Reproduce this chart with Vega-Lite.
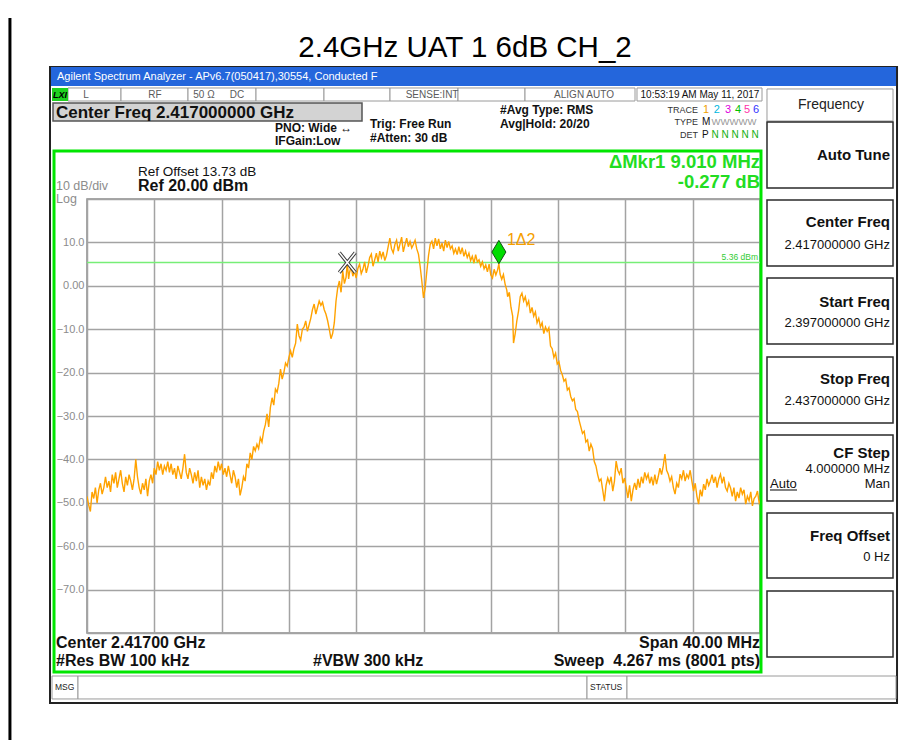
{
  "$schema": "https://vega.github.io/schema/vega-lite/v6.json",
  "width": 673,
  "height": 434,
  "autosize": {"type": "none"},
  "padding": {"left": 87, "top": 199, "right": 139, "bottom": 107},
  "background": "white",
  "config": {
    "view": {"stroke": "#8a8a8a", "strokeWidth": 1.5},
    "font": "Liberation Sans",
    "text": {"font": "Liberation Sans"}
  },
  "datasets": {
    "trace": [
      {"f":2397.0,"dBm":-48.5},{"f":2397.1,"dBm":-50.5},{"f":2397.2,"dBm":-52},{"f":2397.3,"dBm":-47.5},{"f":2397.4,"dBm":-49},{"f":2397.5,"dBm":-46.5},{"f":2397.6,"dBm":-50},{"f":2397.7,"dBm":-47},{"f":2397.8,"dBm":-45.5},{"f":2397.9,"dBm":-48},
      {"f":2398.0,"dBm":-46.5},{"f":2398.1,"dBm":-44},{"f":2398.2,"dBm":-46.5},{"f":2398.3,"dBm":-45},{"f":2398.4,"dBm":-47.5},{"f":2398.5,"dBm":-43.5},{"f":2398.6,"dBm":-45.5},{"f":2398.7,"dBm":-43},{"f":2398.8,"dBm":-46.5},{"f":2398.9,"dBm":-44.5},
      {"f":2399.0,"dBm":-42.5},{"f":2399.1,"dBm":-45.5},{"f":2399.2,"dBm":-47.5},{"f":2399.3,"dBm":-44},{"f":2399.4,"dBm":-46},{"f":2399.5,"dBm":-43.5},{"f":2399.6,"dBm":-45},{"f":2399.7,"dBm":-47},{"f":2399.8,"dBm":-44.5},{"f":2399.9,"dBm":-40},
      {"f":2400.0,"dBm":-44},{"f":2400.1,"dBm":-46.5},{"f":2400.2,"dBm":-48},{"f":2400.3,"dBm":-45.5},{"f":2400.4,"dBm":-47},{"f":2400.5,"dBm":-44.5},{"f":2400.6,"dBm":-48.5},{"f":2400.7,"dBm":-45},{"f":2400.8,"dBm":-43.5},{"f":2400.9,"dBm":-45.5},
      {"f":2401.0,"dBm":-42},{"f":2401.1,"dBm":-43.5},{"f":2401.2,"dBm":-40.5},{"f":2401.3,"dBm":-42.5},{"f":2401.4,"dBm":-41},{"f":2401.5,"dBm":-43.5},{"f":2401.6,"dBm":-41.5},{"f":2401.7,"dBm":-42.5},{"f":2401.8,"dBm":-40.5},{"f":2401.9,"dBm":-43},
      {"f":2402.0,"dBm":-41},{"f":2402.1,"dBm":-43.5},{"f":2402.2,"dBm":-42},{"f":2402.3,"dBm":-44.5},{"f":2402.4,"dBm":-41.5},{"f":2402.5,"dBm":-43},{"f":2402.6,"dBm":-44.5},{"f":2402.7,"dBm":-42},{"f":2402.8,"dBm":-38.8},{"f":2402.9,"dBm":-43},
      {"f":2403.0,"dBm":-44.5},{"f":2403.1,"dBm":-42},{"f":2403.2,"dBm":-43.5},{"f":2403.3,"dBm":-45.5},{"f":2403.4,"dBm":-43},{"f":2403.5,"dBm":-45},{"f":2403.6,"dBm":-42.5},{"f":2403.7,"dBm":-46.5},{"f":2403.8,"dBm":-44},{"f":2403.9,"dBm":-46},
      {"f":2404.0,"dBm":-44.5},{"f":2404.1,"dBm":-47},{"f":2404.2,"dBm":-45},{"f":2404.3,"dBm":-46},{"f":2404.4,"dBm":-43},{"f":2404.5,"dBm":-44.5},{"f":2404.6,"dBm":-41.5},{"f":2404.7,"dBm":-43},{"f":2404.8,"dBm":-40.5},{"f":2404.9,"dBm":-42.5},
      {"f":2405.0,"dBm":-41},{"f":2405.1,"dBm":-43.5},{"f":2405.2,"dBm":-42},{"f":2405.3,"dBm":-44},{"f":2405.4,"dBm":-41.5},{"f":2405.5,"dBm":-43.5},{"f":2405.6,"dBm":-45.5},{"f":2405.7,"dBm":-42.5},{"f":2405.8,"dBm":-44},{"f":2405.9,"dBm":-46.5},
      {"f":2406.0,"dBm":-44.5},{"f":2406.1,"dBm":-48.3},{"f":2406.2,"dBm":-46.5},{"f":2406.3,"dBm":-44},{"f":2406.4,"dBm":-45},{"f":2406.5,"dBm":-41},{"f":2406.6,"dBm":-42},{"f":2406.7,"dBm":-38.5},{"f":2406.8,"dBm":-40},{"f":2406.9,"dBm":-37},
      {"f":2407.0,"dBm":-38},{"f":2407.1,"dBm":-36.5},{"f":2407.2,"dBm":-37.5},{"f":2407.3,"dBm":-35},{"f":2407.4,"dBm":-36},{"f":2407.5,"dBm":-33.5},{"f":2407.6,"dBm":-32},{"f":2407.7,"dBm":-29.5},{"f":2407.8,"dBm":-32.5},{"f":2407.9,"dBm":-28},
      {"f":2408.0,"dBm":-25.8},{"f":2408.1,"dBm":-27.5},{"f":2408.2,"dBm":-23.8},{"f":2408.3,"dBm":-24.5},{"f":2408.4,"dBm":-22.5},{"f":2408.5,"dBm":-19.2},{"f":2408.6,"dBm":-21.5},{"f":2408.7,"dBm":-20},{"f":2408.8,"dBm":-17.8},{"f":2408.9,"dBm":-18.5},
      {"f":2409.0,"dBm":-16.5},{"f":2409.1,"dBm":-15},{"f":2409.2,"dBm":-16.5},{"f":2409.3,"dBm":-14.5},{"f":2409.4,"dBm":-13.2},{"f":2409.5,"dBm":-8.8},{"f":2409.6,"dBm":-11.5},{"f":2409.7,"dBm":-12.5},{"f":2409.8,"dBm":-10},{"f":2409.9,"dBm":-9.5},
      {"f":2410.0,"dBm":-8.1},{"f":2410.1,"dBm":-10.5},{"f":2410.2,"dBm":-9},{"f":2410.3,"dBm":-7.5},{"f":2410.4,"dBm":-5.5},{"f":2410.5,"dBm":-4.2},{"f":2410.6,"dBm":-6.5},{"f":2410.7,"dBm":-5},{"f":2410.8,"dBm":-3.5},{"f":2410.9,"dBm":-4.5},
      {"f":2411.0,"dBm":-3.8},{"f":2411.1,"dBm":-5.5},{"f":2411.2,"dBm":-6.5},{"f":2411.3,"dBm":-8},{"f":2411.4,"dBm":-10},{"f":2411.5,"dBm":-12.2},{"f":2411.6,"dBm":-11},{"f":2411.7,"dBm":-8.5},{"f":2411.8,"dBm":-3.5},{"f":2411.9,"dBm":-0.5},
      {"f":2412.0,"dBm":1.1},{"f":2412.1,"dBm":-1.5},{"f":2412.2,"dBm":3.4},{"f":2412.3,"dBm":0.5},{"f":2412.4,"dBm":2},{"f":2412.47,"dBm":5.36},{"f":2412.55,"dBm":1.6},{"f":2412.6,"dBm":3},{"f":2412.7,"dBm":4.5},{"f":2412.8,"dBm":2.2},{"f":2412.9,"dBm":3.4},
      {"f":2413.0,"dBm":1.8},{"f":2413.1,"dBm":4},{"f":2413.2,"dBm":5},{"f":2413.3,"dBm":2.8},{"f":2413.4,"dBm":3.8},{"f":2413.5,"dBm":5.5},{"f":2413.6,"dBm":3},{"f":2413.7,"dBm":4.5},{"f":2413.8,"dBm":6.5},{"f":2413.9,"dBm":7.3},
      {"f":2414.0,"dBm":4.5},{"f":2414.1,"dBm":6},{"f":2414.2,"dBm":7.5},{"f":2414.3,"dBm":5.5},{"f":2414.4,"dBm":8},{"f":2414.5,"dBm":6.5},{"f":2414.6,"dBm":7.8},{"f":2414.7,"dBm":5.8},{"f":2414.8,"dBm":7},{"f":2414.9,"dBm":9},
      {"f":2415.0,"dBm":11},{"f":2415.1,"dBm":8.5},{"f":2415.2,"dBm":7.6},{"f":2415.3,"dBm":9.5},{"f":2415.4,"dBm":10.5},{"f":2415.5,"dBm":8},{"f":2415.6,"dBm":9.6},{"f":2415.7,"dBm":11.2},{"f":2415.8,"dBm":7.8},{"f":2415.9,"dBm":9.5},
      {"f":2416.0,"dBm":11},{"f":2416.1,"dBm":9},{"f":2416.2,"dBm":10.2},{"f":2416.3,"dBm":8.7},{"f":2416.4,"dBm":9.5},{"f":2416.5,"dBm":10.5},{"f":2416.6,"dBm":8.5},{"f":2416.7,"dBm":7.3},{"f":2416.8,"dBm":4.5},{"f":2416.9,"dBm":1.1},
      {"f":2417.0,"dBm":-2.8},{"f":2417.1,"dBm":-0.5},{"f":2417.2,"dBm":3.4},{"f":2417.3,"dBm":7},{"f":2417.4,"dBm":9.6},{"f":2417.5,"dBm":10.3},{"f":2417.6,"dBm":8.5},{"f":2417.7,"dBm":11},{"f":2417.8,"dBm":9.2},{"f":2417.9,"dBm":10.8},
      {"f":2418.0,"dBm":8.5},{"f":2418.1,"dBm":9.8},{"f":2418.2,"dBm":8},{"f":2418.3,"dBm":10.5},{"f":2418.4,"dBm":8.8},{"f":2418.5,"dBm":10.2},{"f":2418.6,"dBm":8.5},{"f":2418.7,"dBm":9.2},{"f":2418.8,"dBm":7.5},{"f":2418.9,"dBm":8.5},
      {"f":2419.0,"dBm":7.2},{"f":2419.1,"dBm":9},{"f":2419.2,"dBm":7.3},{"f":2419.3,"dBm":8.8},{"f":2419.4,"dBm":6.8},{"f":2419.5,"dBm":8},{"f":2419.6,"dBm":6.5},{"f":2419.7,"dBm":7.5},{"f":2419.8,"dBm":5.8},{"f":2419.9,"dBm":6.8},
      {"f":2420.0,"dBm":5.2},{"f":2420.1,"dBm":7.2},{"f":2420.2,"dBm":5.5},{"f":2420.3,"dBm":6},{"f":2420.4,"dBm":4.5},{"f":2420.5,"dBm":5.5},{"f":2420.6,"dBm":3.9},{"f":2420.7,"dBm":4.8},{"f":2420.8,"dBm":3.2},{"f":2420.9,"dBm":5},
      {"f":2421.0,"dBm":2.5},{"f":2421.1,"dBm":1.8},{"f":2421.2,"dBm":3.8},{"f":2421.3,"dBm":2.5},{"f":2421.4,"dBm":3.6},{"f":2421.48,"dBm":5.08},{"f":2421.55,"dBm":2.7},{"f":2421.65,"dBm":1.5},{"f":2421.75,"dBm":2.6},{"f":2421.85,"dBm":0.4},{"f":2421.95,"dBm":-1},
      {"f":2422.0,"dBm":-2.5},{"f":2422.1,"dBm":-1.5},{"f":2422.2,"dBm":-5},{"f":2422.3,"dBm":-7},{"f":2422.35,"dBm":-13.2},{"f":2422.45,"dBm":-11},{"f":2422.55,"dBm":-8},{"f":2422.65,"dBm":-5.8},{"f":2422.75,"dBm":-2.5},{"f":2422.85,"dBm":-1.7},{"f":2422.95,"dBm":-3.5},
      {"f":2423.05,"dBm":-2.5},{"f":2423.15,"dBm":-4.5},{"f":2423.25,"dBm":-3.5},{"f":2423.35,"dBm":-6.3},{"f":2423.45,"dBm":-5},{"f":2423.55,"dBm":-7},{"f":2423.65,"dBm":-6},{"f":2423.75,"dBm":-8.5},{"f":2423.85,"dBm":-7.5},{"f":2423.95,"dBm":-9.5},
      {"f":2424.05,"dBm":-8.5},{"f":2424.15,"dBm":-11},{"f":2424.25,"dBm":-9.5},{"f":2424.35,"dBm":-10.5},{"f":2424.45,"dBm":-9.7},{"f":2424.55,"dBm":-13.9},{"f":2424.65,"dBm":-14.5},{"f":2424.75,"dBm":-16.5},{"f":2424.85,"dBm":-15.5},{"f":2424.95,"dBm":-18},
      {"f":2425.05,"dBm":-17.5},{"f":2425.15,"dBm":-19.5},{"f":2425.25,"dBm":-20.5},{"f":2425.35,"dBm":-22},{"f":2425.45,"dBm":-21.5},{"f":2425.55,"dBm":-24},{"f":2425.65,"dBm":-23.5},{"f":2425.75,"dBm":-25.5},{"f":2425.85,"dBm":-26.5},{"f":2425.95,"dBm":-26},
      {"f":2426.05,"dBm":-28.5},{"f":2426.15,"dBm":-29},{"f":2426.25,"dBm":-31},{"f":2426.35,"dBm":-32.5},{"f":2426.45,"dBm":-34},{"f":2426.55,"dBm":-33.5},{"f":2426.65,"dBm":-36},{"f":2426.75,"dBm":-35.5},{"f":2426.85,"dBm":-38.1},{"f":2426.95,"dBm":-36.5},
      {"f":2427.05,"dBm":-37.5},{"f":2427.15,"dBm":-40.5},{"f":2427.25,"dBm":-41.5},{"f":2427.35,"dBm":-43.5},{"f":2427.45,"dBm":-45},{"f":2427.55,"dBm":-44.5},{"f":2427.65,"dBm":-47},{"f":2427.75,"dBm":-49.6},{"f":2427.85,"dBm":-46},{"f":2427.95,"dBm":-44.3},
      {"f":2428.05,"dBm":-45.5},{"f":2428.15,"dBm":-44},{"f":2428.25,"dBm":-47.3},{"f":2428.35,"dBm":-45},{"f":2428.45,"dBm":-40.4},{"f":2428.55,"dBm":-42.5},{"f":2428.65,"dBm":-43.4},{"f":2428.75,"dBm":-42},{"f":2428.85,"dBm":-45.5},{"f":2428.95,"dBm":-44.3},
      {"f":2429.05,"dBm":-46.5},{"f":2429.15,"dBm":-48.9},{"f":2429.25,"dBm":-46},{"f":2429.35,"dBm":-49.6},{"f":2429.45,"dBm":-47},{"f":2429.55,"dBm":-45.4},{"f":2429.65,"dBm":-47},{"f":2429.75,"dBm":-44.5},{"f":2429.85,"dBm":-46.5},{"f":2429.95,"dBm":-44},
      {"f":2430.05,"dBm":-45.5},{"f":2430.15,"dBm":-43},{"f":2430.25,"dBm":-44.5},{"f":2430.35,"dBm":-43.4},{"f":2430.45,"dBm":-45.5},{"f":2430.55,"dBm":-44},{"f":2430.65,"dBm":-46},{"f":2430.75,"dBm":-43.5},{"f":2430.85,"dBm":-45.7},{"f":2430.95,"dBm":-44},
      {"f":2431.05,"dBm":-42},{"f":2431.15,"dBm":-43.5},{"f":2431.25,"dBm":-41.5},{"f":2431.35,"dBm":-38.8},{"f":2431.45,"dBm":-42.5},{"f":2431.55,"dBm":-43.4},{"f":2431.65,"dBm":-45},{"f":2431.75,"dBm":-44},{"f":2431.85,"dBm":-46.5},{"f":2431.95,"dBm":-48},
      {"f":2432.05,"dBm":-45.5},{"f":2432.15,"dBm":-46.5},{"f":2432.25,"dBm":-43.4},{"f":2432.35,"dBm":-44.5},{"f":2432.45,"dBm":-42.5},{"f":2432.55,"dBm":-45},{"f":2432.65,"dBm":-43.5},{"f":2432.75,"dBm":-44.3},{"f":2432.85,"dBm":-42.5},{"f":2432.95,"dBm":-45},
      {"f":2433.05,"dBm":-47.3},{"f":2433.15,"dBm":-45.5},{"f":2433.25,"dBm":-48.5},{"f":2433.35,"dBm":-50.3},{"f":2433.45,"dBm":-47},{"f":2433.55,"dBm":-48.5},{"f":2433.65,"dBm":-45.7},{"f":2433.75,"dBm":-47},{"f":2433.85,"dBm":-44.5},{"f":2433.95,"dBm":-46},
      {"f":2434.05,"dBm":-45},{"f":2434.15,"dBm":-43.5},{"f":2434.25,"dBm":-45.4},{"f":2434.35,"dBm":-44},{"f":2434.45,"dBm":-46.5},{"f":2434.55,"dBm":-44.5},{"f":2434.65,"dBm":-43.4},{"f":2434.75,"dBm":-45.5},{"f":2434.85,"dBm":-44},{"f":2434.95,"dBm":-46.5},
      {"f":2435.05,"dBm":-47.3},{"f":2435.15,"dBm":-45.5},{"f":2435.25,"dBm":-46.6},{"f":2435.35,"dBm":-48.5},{"f":2435.45,"dBm":-46.5},{"f":2435.55,"dBm":-49.6},{"f":2435.65,"dBm":-47.5},{"f":2435.75,"dBm":-48.9},{"f":2435.85,"dBm":-46.5},{"f":2435.95,"dBm":-48},
      {"f":2436.05,"dBm":-47},{"f":2436.15,"dBm":-50.3},{"f":2436.25,"dBm":-48.5},{"f":2436.35,"dBm":-49.5},{"f":2436.45,"dBm":-47.5},{"f":2436.55,"dBm":-50.7},{"f":2436.65,"dBm":-49},{"f":2436.75,"dBm":-48.5},{"f":2436.85,"dBm":-47.3},{"f":2436.95,"dBm":-50},{"f":2437.0,"dBm":-49.5}
    ],
    "markers": [
      {"mkr": "1", "f": 2421.48, "dBm": 5.08},
      {"mkr": "2", "f": 2412.47, "dBm": 5.36}
    ],
    "displayLine": [{"f": 2397, "f2": 2437, "dBm": 5.36}],
    "window": [{"f": 2394.801, "f2": 2445.144, "dBm": 50.41, "dBm2": -96.13}],
    "titlebar": [{"f": 2394.86, "f2": 2445.084, "dBm": 50.41, "dBm2": 46.04}],
    "cells": [
      {"f": 2395.871, "f2": 2399.021, "dBm": 45.58, "dBm2": 42.58},
      {"f": 2399.021, "f2": 2403.003, "dBm": 45.58, "dBm2": 42.58},
      {"f": 2403.003, "f2": 2407.045, "dBm": 45.58, "dBm2": 42.58},
      {"f": 2407.045, "f2": 2411.086, "dBm": 45.58, "dBm2": 42.58},
      {"f": 2411.086, "f2": 2415.009, "dBm": 45.58, "dBm2": 42.58},
      {"f": 2415.009, "f2": 2419.051, "dBm": 45.58, "dBm2": 42.58},
      {"f": 2419.051, "f2": 2423.033, "dBm": 45.58, "dBm2": 42.58},
      {"f": 2423.033, "f2": 2429.571, "dBm": 45.58, "dBm2": 42.58},
      {"f": 2429.689, "f2": 2437.119, "dBm": 45.58, "dBm2": 42.58},
      {"f": 2394.92, "f2": 2396.465, "dBm": -89.91, "dBm2": -95.2},
      {"f": 2396.465, "f2": 2426.718, "dBm": -89.91, "dBm2": -95.2},
      {"f": 2426.718, "f2": 2429.095, "dBm": -89.91, "dBm2": -95.2},
      {"f": 2429.095, "f2": 2445.084, "dBm": -89.91, "dBm2": -95.2},
      {"f": 2437.416, "f2": 2444.906, "dBm": 45.35, "dBm2": 37.97}
    ],
    "buttons": [
      {"f": 2437.416, "f2": 2444.906, "dBm": 37.74, "dBm2": 22.53},
      {"f": 2437.416, "f2": 2444.906, "dBm": 19.77, "dBm2": 4.56},
      {"f": 2437.416, "f2": 2444.906, "dBm": 1.80, "dBm2": -13.41},
      {"f": 2437.416, "f2": 2444.906, "dBm": -16.41, "dBm2": -31.61},
      {"f": 2437.416, "f2": 2444.906, "dBm": -34.38, "dBm2": -49.59},
      {"f": 2437.416, "f2": 2444.906, "dBm": -52.35, "dBm2": -67.33},
      {"f": 2437.416, "f2": 2444.906, "dBm": -70.32, "dBm2": -85.53}
    ],
    "lxi": [{"f": 2394.92, "f2": 2395.871, "dBm": 45.58, "dBm2": 42.58}],
    "centerBox": [{"f": 2394.979, "f2": 2413.345, "dBm": 42.12, "dBm2": 37.97}],
    "greenFrame": [{"f": 2395.039, "f2": 2437.059, "dBm": 31.06, "dBm2": -89.0}],
    "outerLine": [{"f": 2392.42, "dBm": 61.7, "dBm2": -104.7}],
    "underline": [{"f": 2437.594, "f2": 2439.2, "dBm": -47.05}],
    "tTitle": [{"t": "2.4GHz UAT 1 6dB CH_2", "f": 2419.467, "dBm": 54.79}],
    "tWin": [{"t": "Agilent Spectrum Analyzer - APv6.7(050417),30554, Conducted F", "f": 2395.217, "dBm": 48.11}],
    "tLxi": [{"t": "LXI", "f": 2395.395, "dBm": 44.0}],
    "tStatus": [
      {"t": "L", "f": 2396.94, "dBm": 43.96},
      {"t": "RF", "f": 2401.04, "dBm": 43.96},
      {"t": "50 Ω", "f": 2403.95, "dBm": 43.96},
      {"t": "DC", "f": 2405.92, "dBm": 43.96},
      {"t": "SENSE:INT", "f": 2417.51, "dBm": 43.96},
      {"t": "ALIGN AUTO", "f": 2426.54, "dBm": 43.96}
    ],
    "tTime": [{"t": "10:53:19 AM May 11, 2017", "f": 2433.43, "dBm": 43.96}],
    "tCenterFreq": [{"t": "Center Freq 2.417000000 GHz", "f": 2395.157, "dBm": 39.82}],
    "tBold12": [
      {"t": "PNO: Wide ↔", "f": 2408.174, "dBm": 36.36},
      {"t": "IFGain:Low", "f": 2408.174, "dBm": 33.36},
      {"t": "Trig: Free Run", "f": 2413.82, "dBm": 37.28},
      {"t": "#Atten: 30 dB", "f": 2413.82, "dBm": 34.06},
      {"t": "#Avg Type: RMS", "f": 2421.547, "dBm": 40.51},
      {"t": "Avg|Hold: 20/20", "f": 2421.547, "dBm": 37.28}
    ],
    "tTraceLbl": [
      {"t": "TRACE", "f": 2433.315, "dBm": 40.51},
      {"t": "TYPE", "f": 2433.315, "dBm": 37.74},
      {"t": "DET", "f": 2433.315, "dBm": 34.75}
    ],
    "tDigits": [
      {"t": "1", "f": 2433.79, "dBm": 40.51},
      {"t": "2", "f": 2434.44, "dBm": 40.51},
      {"t": "3", "f": 2435.10, "dBm": 40.51},
      {"t": "4", "f": 2435.69, "dBm": 40.51},
      {"t": "5", "f": 2436.23, "dBm": 40.51},
      {"t": "6", "f": 2436.76, "dBm": 40.51}
    ],
    "tTypeDetBlack": [
      {"t": "M", "f": 2433.55, "dBm": 37.74},
      {"t": "P", "f": 2433.55, "dBm": 34.75}
    ],
    "tTypeW": [{"t": "WWWWW", "f": 2434.12, "dBm": 37.74}],
    "tDetN": [{"t": "N N N N N", "f": 2434.12, "dBm": 34.75}],
    "tRef": [{"t": "Ref Offset 13.73 dB", "f": 2400.031, "dBm": 26.29}],
    "tRefBold": [{"t": "Ref 20.00 dBm", "f": 2400.031, "dBm": 23.0}],
    "tGray": [
      {"t": "10 dB/div", "f": 2395.157, "dBm": 23.1},
      {"t": "Log", "f": 2395.157, "dBm": 20.0}
    ],
    "tMkr": [
      {"t": "ΔMkr1 9.010 MHz", "f": 2437.0, "dBm": 28.53},
      {"t": "-0.277 dB", "f": 2437.0, "dBm": 23.85}
    ],
    "tBottomL": [
      {"t": "Center 2.41700 GHz", "f": 2395.157, "dBm": -82.37},
      {"t": "#Res BW 100 kHz", "f": 2395.157, "dBm": -86.52},
      {"t": "#VBW 300 kHz", "f": 2410.432, "dBm": -86.52}
    ],
    "tBottomR": [
      {"t": "Span 40.00 MHz", "f": 2437.0, "dBm": -82.37},
      {"t": "Sweep\u00a0 4.267 ms (8001 pts)", "f": 2437.0, "dBm": -86.52}
    ],
    "tPanelHdr": [{"t": "Frequency", "f": 2441.22, "dBm": 41.66}],
    "tPanelBold": [
      {"t": "Auto Tune", "f": 2444.727, "dBm": 30.14},
      {"t": "Center Freq", "f": 2444.727, "dBm": 14.63},
      {"t": "Start Freq", "f": 2444.727, "dBm": -3.66},
      {"t": "Stop Freq", "f": 2444.727, "dBm": -21.55},
      {"t": "CF Step", "f": 2444.727, "dBm": -38.46},
      {"t": "Freq Offset", "f": 2444.727, "dBm": -57.65}
    ],
    "tPanelVal": [
      {"t": "2.417000000 GHz", "f": 2444.727, "dBm": 9.40},
      {"t": "2.397000000 GHz", "f": 2444.727, "dBm": -8.50},
      {"t": "2.437000000 GHz", "f": 2444.727, "dBm": -26.47},
      {"t": "4.000000 MHz", "f": 2444.727, "dBm": -42.14},
      {"t": "Man", "f": 2444.727, "dBm": -45.67},
      {"t": "0 Hz", "f": 2444.727, "dBm": -62.56}
    ],
    "tPanelAuto": [{"t": "Auto", "f": 2437.594, "dBm": -45.67}],
    "tMsg": [
      {"t": "MSG", "f": 2395.098, "dBm": -92.44},
      {"t": "STATUS", "f": 2426.896, "dBm": -92.44}
    ],
    "tDisp": [{"t": "5.36 dBm", "f": 2436.88, "dBm": 6.75}]
  },
  "encoding": {
    "x": {
      "field": "f", "type": "quantitative",
      "scale": {"domain": [2397, 2437], "nice": false, "zero": false},
      "axis": {"values": [2397, 2401, 2405, 2409, 2413, 2417, 2421, 2425, 2429, 2433, 2437], "grid": true, "labels": false, "ticks": false, "domain": false, "title": null, "gridColor": "#a3a3a3", "gridWidth": 1.5}
    },
    "y": {
      "field": "dBm", "type": "quantitative",
      "scale": {"domain": [-80, 20], "nice": false, "zero": false},
      "axis": {"values": [-80, -70, -60, -50, -40, -30, -20, -10, 0, 10, 20], "grid": true, "ticks": false, "domain": false, "title": null, "gridColor": "#a3a3a3", "gridWidth": 1.5, "labelExpr": "datum.value == 0 ? '0.00' : (datum.value == 20 || datum.value == -80 ? '' : format(datum.value, '.1f'))", "labelColor": "#8c8c8c", "labelFontSize": 11, "labelPadding": 3, "labelFont": "Liberation Sans"}
    }
  },
  "layer": [
    {"data": {"name": "outerLine"}, "mark": {"type": "rule", "stroke": "#000", "strokeWidth": 3}, "encoding": {"y2": {"field": "dBm2"}}},
    {"data": {"name": "window"}, "mark": {"type": "rect", "fillOpacity": 0, "stroke": "#222", "strokeWidth": 2}, "encoding": {"x2": {"field": "f2"}, "y2": {"field": "dBm2"}}},
    {"data": {"name": "titlebar"}, "mark": {"type": "rect", "fill": "#2466dc"}, "encoding": {"x2": {"field": "f2"}, "y2": {"field": "dBm2"}}},
    {"data": {"name": "cells"}, "mark": {"type": "rect", "fill": "white", "stroke": "#9a9a9a", "strokeWidth": 1}, "encoding": {"x2": {"field": "f2"}, "y2": {"field": "dBm2"}}},
    {"data": {"name": "buttons"}, "mark": {"type": "rect", "fill": "white", "stroke": "#2a2a2a", "strokeWidth": 1.5}, "encoding": {"x2": {"field": "f2"}, "y2": {"field": "dBm2"}}},
    {"data": {"name": "lxi"}, "mark": {"type": "rect", "fill": "#1fd11f"}, "encoding": {"x2": {"field": "f2"}, "y2": {"field": "dBm2"}}},
    {"data": {"name": "centerBox"}, "mark": {"type": "rect", "fill": "#d3d3d3", "stroke": "#555", "strokeWidth": 1.5}, "encoding": {"x2": {"field": "f2"}, "y2": {"field": "dBm2"}}},
    {"data": {"name": "greenFrame"}, "mark": {"type": "rect", "fillOpacity": 0, "stroke": "#00e600", "strokeWidth": 3}, "encoding": {"x2": {"field": "f2"}, "y2": {"field": "dBm2"}}},
    {"data": {"name": "underline"}, "mark": {"type": "rule", "stroke": "#000", "strokeWidth": 1}, "encoding": {"x2": {"field": "f2"}}},
    {"data": {"name": "displayLine"}, "mark": {"type": "rule", "stroke": "#77ee77", "strokeWidth": 1.5}, "encoding": {"x2": {"field": "f2"}}},
    {"data": {"name": "trace"}, "mark": {"type": "line", "stroke": "#FFA200", "strokeWidth": 1.4, "clip": true}},
    {"data": {"name": "markers"}, "transform": [{"filter": "datum.mkr == '2'"}], "mark": {"type": "point", "shape": "M-1,-1.25L1,1.25M1,-1.25L-1,1.25", "size": 256, "filled": false, "stroke": "#3a3a3a", "strokeWidth": 3.5, "opacity": 1}},
    {"data": {"name": "markers"}, "transform": [{"filter": "datum.mkr == '2'"}], "mark": {"type": "point", "shape": "M-1,-1.25L1,1.25M1,-1.25L-1,1.25", "size": 256, "filled": false, "stroke": "#ffffff", "strokeWidth": 1.5, "opacity": 1}},
    {"data": {"name": "markers"}, "transform": [{"filter": "datum.mkr == '1'"}], "mark": {"type": "point", "shape": "M0,0L0.9,-1.5L0,-3L-0.9,-1.5Z", "size": 243, "filled": true, "fill": "#00dd00", "stroke": "#155015", "strokeWidth": 1, "opacity": 1}},
    {"data": {"name": "markers"}, "transform": [{"filter": "datum.mkr == '1'"}], "mark": {"type": "text", "align": "left", "baseline": "middle", "dx": 8, "dy": -24, "fontSize": 16, "fill": "#f5a000"}, "encoding": {"text": {"value": "1Δ2"}}},
    {"data": {"name": "tTitle"}, "mark": {"type": "text", "align": "center", "baseline": "middle", "font": "Liberation Sans", "fontSize": 29.5, "fill": "#000"}, "encoding": {"text": {"field": "t"}}},
    {"data": {"name": "tWin"}, "mark": {"type": "text", "align": "left", "baseline": "middle", "fontSize": 11, "fill": "#ffffff"}, "encoding": {"text": {"field": "t"}}},
    {"data": {"name": "tLxi"}, "mark": {"type": "text", "align": "center", "baseline": "middle", "fontSize": 9, "fontWeight": "bold", "fontStyle": "italic", "fill": "#000"}, "encoding": {"text": {"field": "t"}}},
    {"data": {"name": "tStatus"}, "mark": {"type": "text", "align": "center", "baseline": "middle", "fontSize": 10, "fill": "#5a5a5a"}, "encoding": {"text": {"field": "t"}}},
    {"data": {"name": "tTime"}, "mark": {"type": "text", "align": "center", "baseline": "middle", "fontSize": 10, "fill": "#111"}, "encoding": {"text": {"field": "t"}}},
    {"data": {"name": "tCenterFreq"}, "mark": {"type": "text", "align": "left", "baseline": "middle", "fontSize": 17, "fontWeight": "bold", "fill": "#111"}, "encoding": {"text": {"field": "t"}}},
    {"data": {"name": "tBold12"}, "mark": {"type": "text", "align": "left", "baseline": "middle", "fontSize": 12, "fontWeight": "bold", "fill": "#111"}, "encoding": {"text": {"field": "t"}}},
    {"data": {"name": "tTraceLbl"}, "mark": {"type": "text", "align": "right", "baseline": "middle", "fontSize": 9, "fill": "#333"}, "encoding": {"text": {"field": "t"}}},
    {"data": {"name": "tDigits"}, "mark": {"type": "text", "align": "center", "baseline": "middle", "fontSize": 11}, "encoding": {"text": {"field": "t"}, "color": {"field": "t", "type": "nominal", "scale": {"domain": ["1", "2", "3", "4", "5", "6"], "range": ["#f0a000", "#00b8e0", "#e000e0", "#00c000", "#ff33aa", "#3333ff"]}, "legend": null}}},
    {"data": {"name": "tTypeDetBlack"}, "mark": {"type": "text", "align": "left", "baseline": "middle", "fontSize": 10, "fill": "#111"}, "encoding": {"text": {"field": "t"}}},
    {"data": {"name": "tTypeW"}, "mark": {"type": "text", "align": "left", "baseline": "middle", "fontSize": 9.5, "fill": "#999"}, "encoding": {"text": {"field": "t"}}},
    {"data": {"name": "tDetN"}, "mark": {"type": "text", "align": "left", "baseline": "middle", "fontSize": 10, "fill": "#10b010"}, "encoding": {"text": {"field": "t"}}},
    {"data": {"name": "tRef"}, "mark": {"type": "text", "align": "left", "baseline": "middle", "fontSize": 13.5, "fill": "#111"}, "encoding": {"text": {"field": "t"}}},
    {"data": {"name": "tRefBold"}, "mark": {"type": "text", "align": "left", "baseline": "middle", "fontSize": 16, "fontWeight": "bold", "fill": "#111"}, "encoding": {"text": {"field": "t"}}},
    {"data": {"name": "tGray"}, "mark": {"type": "text", "align": "left", "baseline": "middle", "fontSize": 12.5, "fill": "#8c8c8c"}, "encoding": {"text": {"field": "t"}}},
    {"data": {"name": "tMkr"}, "mark": {"type": "text", "align": "right", "baseline": "middle", "fontSize": 18.5, "fontWeight": "bold", "fill": "#22dd22"}, "encoding": {"text": {"field": "t"}}},
    {"data": {"name": "tBottomL"}, "mark": {"type": "text", "align": "left", "baseline": "middle", "fontSize": 16, "fontWeight": "bold", "fill": "#111"}, "encoding": {"text": {"field": "t"}}},
    {"data": {"name": "tBottomR"}, "mark": {"type": "text", "align": "right", "baseline": "middle", "fontSize": 16, "fontWeight": "bold", "fill": "#111"}, "encoding": {"text": {"field": "t"}}},
    {"data": {"name": "tPanelHdr"}, "mark": {"type": "text", "align": "center", "baseline": "middle", "fontSize": 14, "fill": "#222"}, "encoding": {"text": {"field": "t"}}},
    {"data": {"name": "tPanelBold"}, "mark": {"type": "text", "align": "right", "baseline": "middle", "fontSize": 15, "fontWeight": "bold", "fill": "#111"}, "encoding": {"text": {"field": "t"}}},
    {"data": {"name": "tPanelVal"}, "mark": {"type": "text", "align": "right", "baseline": "middle", "fontSize": 13, "fill": "#111"}, "encoding": {"text": {"field": "t"}}},
    {"data": {"name": "tPanelAuto"}, "mark": {"type": "text", "align": "left", "baseline": "middle", "fontSize": 13, "fill": "#111"}, "encoding": {"text": {"field": "t"}}},
    {"data": {"name": "tMsg"}, "mark": {"type": "text", "align": "left", "baseline": "middle", "fontSize": 8.5, "fill": "#222"}, "encoding": {"text": {"field": "t"}}},
    {"data": {"name": "tDisp"}, "mark": {"type": "text", "align": "right", "baseline": "middle", "fontSize": 8.5, "fill": "#33cc33"}, "encoding": {"text": {"field": "t"}}}
  ]
}
